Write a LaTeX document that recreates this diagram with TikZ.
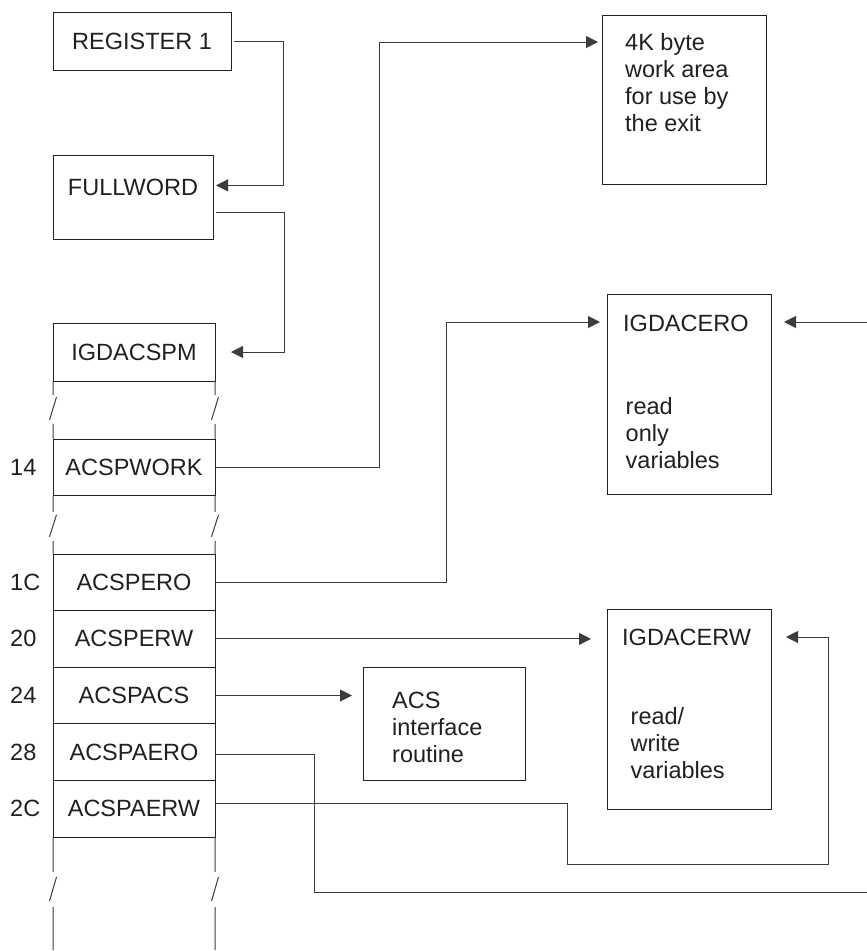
\documentclass[tikz,border=0pt]{standalone}
\usepackage{fontspec}
\setmainfont{Liberation Sans}
\usetikzlibrary{positioning,calc,arrows.meta}
\definecolor{ink}{HTML}{231F20}
\definecolor{wirecol}{HTML}{3C3C3C}

\begin{document}
\begin{tikzpicture}[x=1pt, y=-1pt,
    font=\fontsize{23.5pt}{27pt}\selectfont, text=ink,
    box/.style={draw=ink, line width=1pt, inner sep=0pt, outer sep=0pt},
    cell/.style={box, minimum width=162pt, minimum height=56.6pt},
    offs/.style={anchor=west, inner sep=0pt},
    note/.style={align=left, anchor=north west, inner sep=0pt},
    wire/.style={draw=wirecol, line width=1pt},
    ptr/.style={wire, -{Triangle[length=12pt,width=12pt]}}]
    \useasboundingbox (0,0) rectangle (867,951);

    % Pointer chain
    \node (reg) [box, minimum width=178pt, minimum height=58pt] at (142,41) {REGISTER 1};
    \node (full) [box, minimum width=160pt, text height=40pt, text depth=44pt] at (133,197) {FULLWORD};

    % Parameter list
    \node (spm) [cell, minimum height=58pt] at (134,352) {IGDACSPM};
    \node (work) [cell] at (134,467.5) {ACSPWORK};
    \node (ero) [cell] at (134,582.3) {ACSPERO};
    \node (erw) [cell, below=0pt of ero] {ACSPERW};
    \node (acs) [cell, below=0pt of erw] {ACSPACS};
    \node (aero) [cell, below=0pt of acs] {ACSPAERO};
    \node (aerw) [cell, below=0pt of aero] {ACSPAERW};

    % Offsets
    \coordinate (gutter) at (10,0);
    \foreach \n/\lbl in {work/14, ero/1C, erw/20, acs/24, aero/28, aerw/2C}
        \node (off\n) [offs] at (\n.west -| gutter) {\lbl};

    % Column breaks
    \foreach \s in {west,east} {
        \draw[wire] (spm.south \s) -- ++(0,14) ++(3.5,2) -- ++(-7,23) ++(3.5,4) -- (work.north \s);
        \draw[wire] (work.south \s) -- ++(0,16) ++(3.5,3) -- ++(-7,22) ++(3.5,4) -- (ero.north \s);
        \draw[wire] (aerw.south \s) -- ++(0,35) ++(3.5,5) -- ++(-7,24) ++(3.5,6) -- ++(0,43);
    }

    % Work area
    \node (k4) [box, minimum width=164pt, minimum height=169pt] at (684,99.5) {};
    \node (k4txt) [note] at ([shift={(23,18)}]k4.north west) {4K byte\\work area\\for use by\\the exit};

    % Read only variables
    \node (erobox) [box, minimum width=164pt, minimum height=200pt] at (689,394) {};
    \node (erotitle) [note] at ([shift={(16,20.5)}]erobox.north west) {IGDACERO};
    \node (erotxt) [note] at ([shift={(18.5,103)}]erobox.north west) {read\\only\\variables};

    % Read/write variables
    \node (erwbox) [box, minimum width=164pt, minimum height=200pt] at (689,709) {};
    \node (erwtitle) [note] at ([shift={(15,20)}]erwbox.north west) {IGDACERW};
    \node (erwtxt) [note] at ([shift={(23.5,98)}]erwbox.north west) {read/\\write\\variables};

    % Interface routine
    \node (acsbox) [box, minimum width=162pt, minimum height=113pt] at (444,723.5) {};
    \node (acstxt) [note] at ([shift={(29,25)}]acsbox.north west) {ACS\\interface\\routine};

    % Off-page ends
    \coordinate (roin) at (867,322);
    \coordinate (roout) at (867,892);

    % Pointers
    \draw[ptr, shorten <=3pt, shorten >=3pt] (reg.east) -- ++(52,0) |- ([yshift=7pt]full.mid east);
    \draw[ptr, shorten <=3pt, shorten >=16pt] ([yshift=-15pt]full.east) -- ++(71,0) |- (spm.east);
    \draw[ptr, shorten <=1pt, shorten >=4pt] (work.east) -- ++(164,0) |- ([yshift=-27pt]k4.north west);
    \draw[ptr, shorten <=1pt, shorten >=7pt] (ero.east) -- ++(231,0) |- ([yshift=-28pt]erobox.north west);
    \draw[ptr, shorten <=1pt, shorten >=16pt] (erw.east) -- (erw.east -| erwbox.west);
    \draw[ptr, shorten <=1pt, shorten >=11pt] (acs.east) -- (acs.east -| acsbox.west);
    \draw[wire, shorten <=1pt] ([yshift=-2pt]aero.east) -- ++(99,0) |- (roout);
    \draw[ptr, shorten <=1pt, shorten >=15pt] ([yshift=5pt]aerw.east) -- ++(352,0) -- ++(0,61) -- ++(261,0) |- ([yshift=-28pt]erwbox.north east);
    \draw[ptr, shorten >=13pt] (roin) -- (roin -| erobox.east);
\end{tikzpicture}
\end{document}
